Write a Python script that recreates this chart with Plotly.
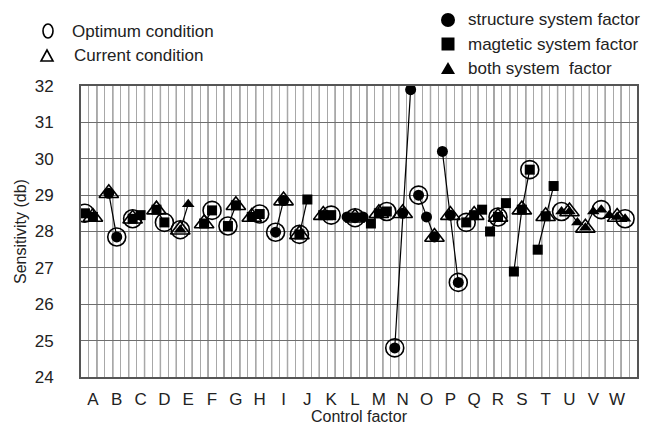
import plotly.graph_objects as go

factors = list("ABCDEFGHIJKLMNOPQRSTUVW")
factor_type = ["magnetic", "structure", "magnetic", "magnetic", "both", "magnetic",
               "magnetic", "magnetic", "structure", "magnetic", "magnetic", "structure",
               "magnetic", "structure", "structure", "structure", "magnetic", "magnetic",
               "magnetic", "magnetic", "both", "both", "both"]
level_values = [
    [28.5, 28.4], [29.05, 27.85], [28.35, 28.45], [28.6, 28.25], [28.05, 28.75],
    [28.22, 28.58], [28.15, 28.72], [28.4, 28.48], [27.98, 28.85], [27.92, 28.88],
    [28.45, 28.45], [28.4, 28.38, 28.4], [28.22, 28.5, 28.55], [24.8, 28.5, 31.9],
    [29.0, 28.4, 27.85], [30.2, 28.45, 26.6], [28.25, 28.45, 28.6], [28.0, 28.4, 28.78],
    [26.9, 28.6, 29.7], [27.5, 28.42, 29.25], [28.55, 28.55, 28.25], [28.1, 28.55, 28.6],
    [28.45, 28.4, 28.35],
]
optimum_level = [0, 1, 0, 1, 0, 1, 0, 1, 0, 0, 1, 1, 2, 0, 0, 2, 0, 1, 2, None, 0, 2, 2]
current_level = [1, 0, 0, 0, 0, 0, 1, 0, 1, 0, 0, 1, 1, 1, 2, 1, 1, 1, 1, 1, 1, 0, 1]
y_ticks = list(range(24, 33))

SLOTS = 3
FONT = "Liberation Sans, Arial, sans-serif"
X_MAX = SLOTS * len(factors) + 1


def level_x(i, j):
    return SLOTS * i + j + 0.5


fig = go.Figure()

# connecting lines within each factor
lx, ly = [], []
for i, vals in enumerate(level_values):
    for j, v in enumerate(vals):
        lx.append(level_x(i, j))
        ly.append(v)
    lx.append(None)
    ly.append(None)
fig.add_trace(go.Scatter(x=lx, y=ly, mode="lines", line=dict(color="black", width=1.2),
                         showlegend=False, hoverinfo="skip"))

symbols = {"structure": "circle", "magnetic": "square", "both": "triangle-up"}
for t, sym in symbols.items():
    xs, ys = [], []
    for i, vals in enumerate(level_values):
        if factor_type[i] != t:
            continue
        for j, v in enumerate(vals):
            xs.append(level_x(i, j))
            ys.append(v)
    fig.add_trace(go.Scatter(x=xs, y=ys, mode="markers", showlegend=False,
                             marker=dict(symbol=sym, size=11 if sym != "square" else 10,
                                         color="black")))

ox, oy, cx, cy = [], [], [], []
for i, vals in enumerate(level_values):
    if optimum_level[i] is not None:
        ox.append(level_x(i, optimum_level[i]))
        oy.append(vals[optimum_level[i]])
    if current_level[i] is not None:
        cx.append(level_x(i, current_level[i]))
        cy.append(vals[current_level[i]])
fig.add_trace(go.Scatter(x=ox, y=oy, mode="markers", showlegend=False,
                         marker=dict(symbol="circle-open", size=18, color="black",
                                     line=dict(width=1.6))))
fig.add_trace(go.Scatter(x=cx, y=cy, mode="markers", showlegend=False,
                         marker=dict(symbol="triangle-up-open", size=17, color="black",
                                     line=dict(width=1.6))))

# plot geometry in pixels
L, R, T, B = 81, 637, 86, 377
W, H = R - L, B - T


def px(xp):
    return (xp - L) / W


def py(yp):
    return (B - yp) / H


shapes = []
# darker alternate vertical grid lines
for k in range(2, X_MAX, 2):
    shapes.append(dict(type="line", xref="x", yref="paper", x0=k, x1=k, y0=0, y1=1,
                       layer="below", line=dict(color="#6e6e6e", width=1.3)))
# legend keys
shapes.append(dict(type="circle", xref="paper", yref="paper",
                   x0=px(43), x1=px(53), y0=py(24), y1=py(38),
                   line=dict(color="black", width=1.6)))
shapes.append(dict(type="path", xref="paper", yref="paper",
                   path=f"M {px(41)} {py(61)} L {px(53)} {py(61)} L {px(47)} {py(50)} Z",
                   line=dict(color="black", width=1.6)))
shapes.append(dict(type="circle", xref="paper", yref="paper",
                   x0=px(441), x1=px(455), y0=py(13), y1=py(27),
                   line=dict(color="black", width=0), fillcolor="black"))
shapes.append(dict(type="rect", xref="paper", yref="paper",
                   x0=px(441.5), x1=px(454.5), y0=py(37.5), y1=py(50.5),
                   line=dict(color="black", width=0), fillcolor="black"))
shapes.append(dict(type="path", xref="paper", yref="paper",
                   path=f"M {px(441)} {py(74)} L {px(455)} {py(74)} L {px(448)} {py(62)} Z",
                   line=dict(color="black", width=0), fillcolor="black"))

legend_texts = [
    ("Optimum condition", 70, 31),
    ("Current condition", 72, 56),
    ("structure system factor", 466, 20),
    ("magtetic system factor", 466, 44),
    ("both system\u00a0 factor", 466, 68),
]
annotations = []
for txt, xx, yy in legend_texts:
    annotations.append(dict(text=txt, xref="paper", yref="paper", x=px(xx), y=py(yy),
                            xanchor="left", yanchor="middle", showarrow=False,
                            font=dict(family=FONT, size=17, color="#222")))
annotations.append(dict(text="Sensitivity (db)", xref="paper", yref="paper",
                        x=px(20), y=py(232), textangle=-90, xanchor="center",
                        yanchor="middle", showarrow=False,
                        font=dict(family=FONT, size=16, color="#222")))
annotations.append(dict(text="Control factor", xref="paper", yref="paper",
                        x=px(359), y=py(416), xanchor="center", yanchor="middle",
                        showarrow=False, font=dict(family=FONT, size=16, color="#222")))

fig.update_layout(
    width=666, height=425,
    margin=dict(l=L, r=666 - R, t=T, b=425 - B),
    paper_bgcolor="white", plot_bgcolor="white",
    shapes=shapes, annotations=annotations,
    font=dict(family=FONT, color="#222"),
    showlegend=False,
)
fig.update_xaxes(
    range=[0, X_MAX],
    tickmode="array",
    tickvals=[SLOTS * i + 1.5 for i in range(len(factors))],
    ticktext=factors,
    showgrid=False, zeroline=False,
    minor=dict(tickmode="linear", tick0=0, dtick=1, showgrid=True,
               gridcolor="#a8a8a8", gridwidth=1.3),
    showline=True, mirror=True, linecolor="#555", linewidth=2,
    ticks="", ticklabelstandoff=6,
    tickfont=dict(family=FONT, size=17, color="#222"),
)
fig.update_yaxes(
    range=[24, 32], tickmode="array", tickvals=y_ticks,
    showgrid=True, gridcolor="#6e6e6e", gridwidth=1.3, zeroline=False,
    showline=True, mirror=True, linecolor="#555", linewidth=2,
    ticks="", ticklabelstandoff=22,
    tickfont=dict(family=FONT, size=17, color="#222"),
)

fig.write_html("out.html")
